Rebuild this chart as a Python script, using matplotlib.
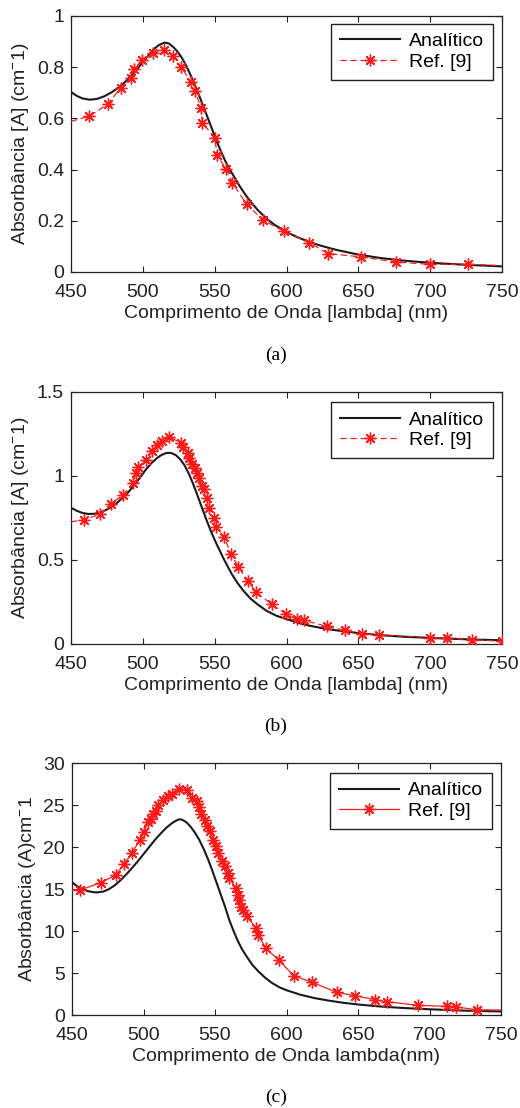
import matplotlib
matplotlib.use("Agg")
import matplotlib.pyplot as plt
from matplotlib.ticker import FormatStrFormatter, MultipleLocator

plt.rcParams['font.family'] = ['Liberation Sans', 'DejaVu Sans']
plt.rcParams['mathtext.fontset'] = 'custom'
plt.rcParams['mathtext.rm'] = 'Liberation Sans'
plt.rcParams['mathtext.it'] = 'Liberation Sans:italic'
plt.rcParams['mathtext.bf'] = 'Liberation Sans:bold'

# ---------------- data: panel (a) ----------------
a_ana_x = [450, 454, 458, 463, 468, 473, 478, 483, 488, 493, 498, 503, 507, 511,
           515, 518, 521, 524, 527, 530, 533, 536, 539, 542, 545, 548, 551, 554,
           557, 560, 564, 568, 572, 576, 580, 586, 592, 600, 608, 616, 625, 635,
           650, 665, 680, 700, 725, 750]
a_ana_y = [0.703, 0.688, 0.678, 0.673, 0.676, 0.686, 0.701, 0.720, 0.744, 0.773,
           0.806, 0.840, 0.867, 0.886, 0.896, 0.893, 0.880, 0.862, 0.838, 0.808,
           0.772, 0.733, 0.692, 0.649, 0.605, 0.561, 0.517, 0.476, 0.438, 0.405,
           0.368, 0.330, 0.297, 0.268, 0.242, 0.209, 0.183, 0.156, 0.135, 0.117,
           0.101, 0.086, 0.068, 0.055, 0.045, 0.036, 0.028, 0.022]
a_ref_x = [450, 462.8, 475.5, 484.6, 491.5, 494.1, 499.2, 507.3, 514.7, 520.8,
           526.6, 533.5, 536.3, 540.5, 541.4, 550.2, 551.6, 557.9, 562.3, 572.3,
           583.9, 598.3, 615.7, 628.9, 651.9, 676.2, 699.9, 726.1, 750]
a_ref_y = [0.589, 0.608, 0.656, 0.719, 0.759, 0.794, 0.827, 0.855, 0.866, 0.842,
           0.801, 0.742, 0.706, 0.642, 0.582, 0.525, 0.456, 0.404, 0.348, 0.264,
           0.202, 0.159, 0.115, 0.072, 0.059, 0.039, 0.030, 0.030, 0.025]

# ---------------- data: panel (b) ----------------
b_ana_x = [450, 454, 458, 462, 466, 470, 474, 478, 482, 486, 490, 494, 498, 502,
           506, 510, 513, 516, 518, 520, 523, 526, 529, 532, 535, 538, 541, 544,
           547, 550, 553, 556, 559, 562, 566, 570, 575, 580, 586, 593, 600, 608,
           616, 625, 635, 650, 665, 680, 700, 725, 750]
b_ana_y = [0.811, 0.793, 0.780, 0.774, 0.775, 0.782, 0.796, 0.815, 0.840, 0.870,
           0.905, 0.945, 0.990, 1.037, 1.077, 1.108, 1.125, 1.136, 1.138, 1.136,
           1.124, 1.100, 1.064, 1.014, 0.953, 0.885, 0.815, 0.745, 0.680, 0.620,
           0.565, 0.512, 0.462, 0.415, 0.362, 0.317, 0.270, 0.235, 0.198, 0.168,
           0.148, 0.127, 0.109, 0.094, 0.081, 0.065, 0.053, 0.044, 0.036, 0.028,
           0.022]
b_ref_x = [450, 459.3, 470.2, 477.6, 486.4, 493.4, 495.2, 496.4, 502.0, 506.1,
           509.6, 513.1, 518.4, 526.6, 528.2, 531.2, 532.4, 534.0, 536.3, 537.9,
           539.3, 540.9, 542.5, 544.4, 546.3, 549.5, 550.9, 556.7, 561.4, 566.5,
           573.4, 578.5, 589.7, 599.7, 607.1, 612.2, 628.0, 640.7, 652.3, 664.4,
           699.9, 711.9, 728.9, 750]
b_ref_y = [0.728, 0.738, 0.774, 0.833, 0.889, 0.956, 1.015, 1.051, 1.098, 1.146,
           1.183, 1.207, 1.233, 1.197, 1.170, 1.138, 1.110, 1.071, 1.045, 1.015,
           0.986, 0.940, 0.924, 0.867, 0.807, 0.748, 0.699, 0.635, 0.536, 0.457,
           0.376, 0.309, 0.237, 0.178, 0.148, 0.141, 0.105, 0.081, 0.059, 0.055,
           0.038, 0.034, 0.026, 0.016]

# ---------------- data: panel (c) ----------------
c_ana_x = [450, 453, 457, 461, 465, 468, 472, 476, 480, 484, 488, 492, 496, 500,
           504, 508, 512, 516, 520, 523, 525, 527, 530, 533, 536, 539, 542, 545,
           548, 551, 554, 557, 560, 563, 566, 569, 572, 576, 580, 585, 590, 595,
           600, 610, 620, 630, 640, 650, 665, 680, 700, 725, 750]
c_ana_y = [15.8, 15.4, 15.0, 14.75, 14.62, 14.6, 14.7, 15.0, 15.45, 16.05, 16.75,
           17.5, 18.3, 19.15, 20.0, 20.85, 21.6, 22.3, 22.85, 23.15, 23.3, 23.25,
           22.95, 22.4, 21.7, 20.85, 19.8, 18.6, 17.25, 15.8, 14.35, 12.9, 11.3,
           10.0, 8.8, 7.8, 7.0, 6.0, 5.25, 4.45, 3.8, 3.3, 2.95, 2.4, 2.0, 1.7,
           1.45, 1.25, 1.02, 0.85, 0.68, 0.52, 0.42]
c_ref_x = [450, 455.8, 470.1, 480.6, 486.4, 492.0, 497.4, 500.2, 503.2, 505.1,
           506.7, 508.4, 510.2, 513.7, 517.2, 519.6, 524.7, 530.1, 533.6, 537.1,
           538.9, 540.1, 542.9, 544.1, 546.4, 548.8, 550.6, 552.3, 554.6, 556.9,
           558.8, 560.0, 564.6, 565.8, 567.0, 567.9, 569.3, 572.1, 578.6, 580.3,
           585.4, 595.0, 605.0, 617.6, 635.1, 648.0, 662.0, 670.6, 691.9, 712.2,
           718.7, 733.2, 750]
c_ref_y = [14.88, 14.88, 15.75, 16.66, 17.97, 19.31, 20.82, 21.80, 22.99, 23.39,
           23.90, 24.30, 24.97, 25.56, 26.04, 26.36, 26.95, 26.83, 25.88, 25.45,
           24.77, 23.90, 23.19, 22.48, 21.92, 20.82, 20.10, 19.23, 18.36, 17.73,
           16.86, 16.34, 15.08, 14.29, 13.69, 12.90, 12.50, 11.79, 10.33, 9.54,
           7.95, 6.49, 4.67, 3.92, 2.69, 2.30, 1.82, 1.58, 1.15, 1.03, 0.95, 0.63,
           0.59]

x_ticks = [450, 500, 550, 600, 650, 700, 750]
legend_labels = ['Analítico', 'Ref. [9]']

W, H = 520, 1108
fig = plt.figure(figsize=(W / 100, H / 100), dpi=100)

FS = 14
AST = (8, 2, 0)

def make_ax(box, ana_x, ana_y, ref_x, ref_y, ylim, ystep, ylabel, xlabel,
            ref_ls, mevery, leg_y):
    l, t, r, b = box
    ax = fig.add_axes([l / W, 1 - b / H, (r - l) / W, (b - t) / H])
    ax.plot(ana_x, ana_y, color='#1a1a1a', lw=1.5, label=legend_labels[0], zorder=3)
    ax.plot(ref_x, ref_y, color='#ff1a1a', lw=0.9, linestyle=ref_ls,
            marker=AST, markersize=8.5, markeredgewidth=1.0, markevery=mevery,
            label=legend_labels[1], zorder=4)
    ax.set_xlim(450, 750)
    ax.set_ylim(*ylim)
    ax.set_xticks(x_ticks)
    ax.yaxis.set_major_locator(MultipleLocator(ystep))
    ax.yaxis.set_major_formatter(FormatStrFormatter('%g'))
    ax.tick_params(direction='in', top=True, right=True, length=4, width=0.8,
                   labelsize=FS, pad=5, colors='#222222')
    ax.tick_params(axis='x', pad=8.5)
    for s in ax.spines.values():
        s.set_linewidth(0.9)
        s.set_color('#222222')
    ax.set_xlabel(xlabel, fontsize=FS, labelpad=3, color='#222222')
    ax.set_ylabel(ylabel, fontsize=FS, labelpad=4, color='#222222')
    leg = ax.legend(loc='upper right', bbox_to_anchor=(0.979, leg_y),
                    fontsize=FS, frameon=True, fancybox=False, framealpha=1,
                    edgecolor='#222222', handlelength=3.1, handletextpad=0.45,
                    borderpad=0.45, labelspacing=0.15, borderaxespad=0.0,
                    numpoints=1)
    leg.get_frame().set_linewidth(1.0)
    return ax

make_ax((71, 16, 502, 272), a_ana_x, a_ana_y, a_ref_x, a_ref_y, (0, 1), 0.2,
        'Absorbância [A] (cm$^{-}$1)', 'Comprimento de Onda [lambda] (nm)',
        (0, (5, 3)), slice(1, -1), 0.969)
fig.text(276 / W, 1 - 355 / H, '(a)', family='Liberation Serif', fontsize=14,
         ha='center', va='center')

make_ax((71, 392, 502, 644), b_ana_x, b_ana_y, b_ref_x, b_ref_y, (0, 1.5), 0.5,
        'Absorbância [A] (cm$^{-}$1)', 'Comprimento de Onda [lambda] (nm)',
        (0, (5, 3)), slice(1, None), 0.959)
fig.text(276 / W, 1 - 726 / H, '(b)', family='Liberation Serif', fontsize=14,
         ha='center', va='center')

make_ax((72, 763, 501, 1015), c_ana_x, c_ana_y, c_ref_x, c_ref_y, (0, 30), 5,
        'Absorbância (A)cm$^{-}$1', 'Comprimento de Onda lambda(nm)',
        '-', slice(1, -1), 0.960)
fig.text(276 / W, 1 - 1097 / H, '(c)', family='Liberation Serif', fontsize=14,
         ha='center', va='center')

fig.savefig('out.png', dpi=100)
